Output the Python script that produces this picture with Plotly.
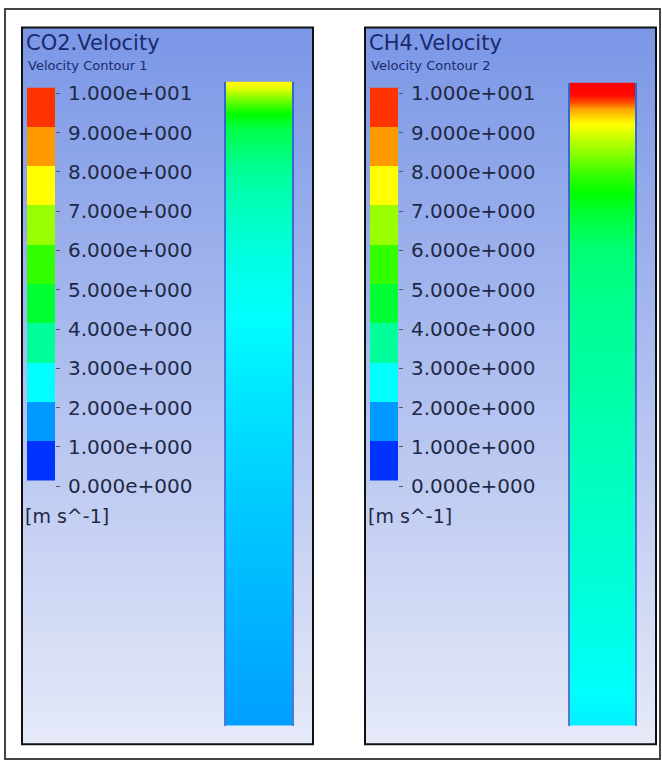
import numpy as np
import plotly.graph_objects as go

# ---------------- data ----------------
legend_levels = [0, 1, 2, 3, 4, 5, 6, 7, 8, 9, 10]          # m s^-1
legend_colors = ["rgb(0,51,255)", "rgb(0,153,255)", "rgb(0,255,255)", "rgb(0,255,153)",
                 "rgb(0,255,51)", "rgb(51,255,0)", "rgb(153,255,0)", "rgb(255,255,0)",
                 "rgb(255,153,0)", "rgb(255,51,0)"]

# axial position along the tube (0 = top inlet, 1 = bottom) and velocity
co2_pos = [0.0, 0.012, 0.027, 0.05, 0.073, 0.127, 0.186, 0.278, 0.369, 0.491, 0.643, 0.796, 1.0]
co2_vel = [7.6, 7.1, 6.2, 5.0, 4.3, 3.6, 3.2, 2.75, 2.5, 2.25, 2.0, 1.8, 1.55]

ch4_pos = [0.0, 0.018, 0.029, 0.041, 0.06, 0.099, 0.14, 0.171, 0.209, 0.255, 0.339, 0.492, 0.644, 0.797, 0.919, 1.0]
ch4_vel = [10.0, 9.9, 9.3, 8.4, 7.6, 6.6, 5.6, 5.0, 4.4, 3.9, 3.6, 3.35, 3.1, 2.85, 2.6, 2.35]

panels = [
    {"title": "CO2.Velocity", "sub": "Velocity Contour 1", "pos": co2_pos, "vel": co2_vel},
    {"title": "CH4.Velocity", "sub": "Velocity Contour 2", "pos": ch4_pos, "vel": ch4_vel},
]

# ---------------- layout helpers ----------------
W, H = 662, 768
def px(x): return x / W
def py(y): return 1 - y / H

rainbow = [[0, "rgb(0,0,255)"], [0.25, "rgb(0,255,255)"], [0.5, "rgb(0,255,0)"],
           [0.75, "rgb(255,255,0)"], [1, "rgb(255,0,0)"]]
bg_scale = [[0, "#e6eaf8"], [1, "#7a96e6"]]

def fmt(v):
    if v == 0:
        m, e = 0.0, 0
    else:
        e = int(np.floor(np.log10(abs(v))))
        m = v / 10 ** e
    sign = "+" if e >= 0 else "-"
    return f"{m:.3f}e{sign}{abs(e):03d}"

# discrete legend colour scale
lo, hi = legend_levels[0], legend_levels[-1]
disc = []
for i, c in enumerate(legend_colors):
    disc.append([(legend_levels[i] - lo) / (hi - lo), c])
    disc.append([(legend_levels[i + 1] - lo) / (hi - lo), c])
band_mid = [(legend_levels[i] + legend_levels[i + 1]) / 2 for i in range(len(legend_colors))]

FONT = "DejaVu Sans"
fig = go.Figure()
layout = dict(width=W, height=H, margin=dict(l=0, r=0, t=0, b=0),
              paper_bgcolor="white", plot_bgcolor="rgba(0,0,0,0)", showlegend=False)
shapes, annotations = [], []

hidden = dict(showgrid=False, zeroline=False, showticklabels=False, ticks="", fixedrange=True)

for k, p in enumerate(panels):
    dx = 0 if k == 0 else 343
    pl, pr, pt, pb = 22 + dx, 313 + dx, 22, 752
    bl, br, bt, bb = 226 + dx + (1 if k else 0), 292 + dx, 77 + k, 733
    ll, lr, lt = 27 + dx, 55 + dx, 83
    off = 0.15                      # label offset below band boundary (in m/s units)
    lbottom = lt + 40 * (hi - lo + 0.25)

    n = 3 * k
    ax = [str(n + 1) if n + 1 > 1 else "", str(n + 2), str(n + 3)]

    # background gradient
    fig.add_trace(go.Heatmap(z=[[0, 0], [1, 1]], x=[0, 1], y=[0, 1], colorscale=bg_scale,
                             zsmooth="best", showscale=False, hoverinfo="skip",
                             xaxis="x" + ax[0], yaxis="y" + ax[0]))
    layout["xaxis" + ax[0]] = dict(domain=[px(pl), px(pr)], range=[0, 1], anchor="y" + ax[0], **hidden)
    layout["yaxis" + ax[0]] = dict(domain=[py(pb), py(pt)], range=[0, 1], anchor="x" + ax[0], **hidden)

    # velocity column
    vel = np.array(p["vel"])
    fig.add_trace(go.Heatmap(z=np.column_stack([vel, vel]), x=[0, 1], y=p["pos"],
                             colorscale=rainbow, zmin=lo, zmax=hi, zsmooth="best",
                             showscale=False, hoverinfo="skip",
                             xaxis="x" + ax[1], yaxis="y" + ax[1]))
    layout["xaxis" + ax[1]] = dict(domain=[px(bl), px(br)], range=[0, 1], anchor="y" + ax[1], **hidden)
    layout["yaxis" + ax[1]] = dict(domain=[py(bb), py(bt)], range=[1, 0], anchor="x" + ax[1],
                                   showline=True, mirror=True, linecolor="rgba(25,85,205,0.75)",
                                   linewidth=2, **hidden)

    # banded legend
    fig.add_trace(go.Heatmap(z=[[v] for v in band_mid], x=[0], y=band_mid,
                             colorscale=disc, zmin=lo, zmax=hi, showscale=False,
                             hoverinfo="skip", xaxis="x" + ax[2], yaxis="y" + ax[2]))
    layout["xaxis" + ax[2]] = dict(domain=[px(ll), px(lr)], range=[-0.5, 0.5], anchor="y" + ax[2], **hidden)
    layout["yaxis" + ax[2]] = dict(domain=[py(lbottom), py(lt)], range=[lo - 0.25, hi],
                                   anchor="x" + ax[2], side="right", showgrid=False, zeroline=False,
                                   tickmode="array", tickvals=[v - off for v in legend_levels],
                                   ticktext=[fmt(v) for v in legend_levels],
                                   ticks="outside", ticklen=4, tickwidth=1, tickcolor="#556",
                                   ticklabelstandoff=4,
                                   tickfont=dict(family=FONT, size=20, color="#1f2946"),
                                   fixedrange=True)

    # texts
    annotations += [
        dict(text=p["title"], x=px(pl + 2), y=py(38), xref="paper", yref="paper",
             xanchor="left", yanchor="middle", showarrow=False,
             font=dict(family=FONT, size=21, color="#1b2a6e")),
        dict(text=p["sub"], x=px(pl + 4), y=py(60.5), xref="paper", yref="paper",
             xanchor="left", yanchor="middle", showarrow=False,
             font=dict(family=FONT, size=13, color="#1b2a6e")),
        dict(text="[m s^-1]", x=px(pl + 1), y=py(519), xref="paper", yref="paper",
             xanchor="left", yanchor="middle", showarrow=False,
             font=dict(family=FONT, size=19, color="#1f2946")),
    ]
    shapes.append(dict(type="rect", xref="paper", yref="paper", x0=px(pl), x1=px(pr),
                       y0=py(pb), y1=py(pt), line=dict(color="#111", width=2), layer="above"))

shapes.append(dict(type="rect", xref="paper", yref="paper", x0=px(5), x1=px(660),
                   y0=py(767), y1=py(3), line=dict(color="#444", width=2), layer="above"))

layout["shapes"] = shapes
layout["annotations"] = annotations
fig.update_layout(**layout)
fig.write_html("out.html")
